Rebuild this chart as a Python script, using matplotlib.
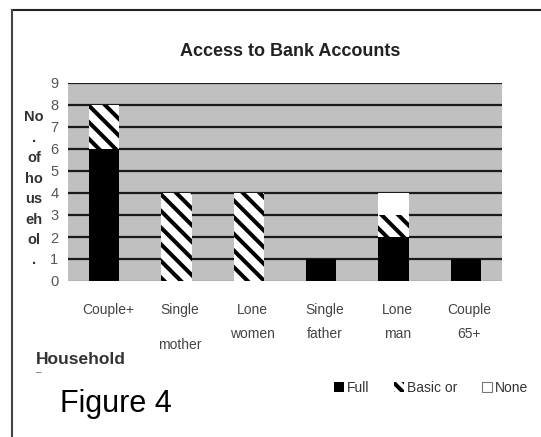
import matplotlib
matplotlib.use("Agg")
import matplotlib.pyplot as plt
import matplotlib.transforms as mtransforms
from matplotlib.lines import Line2D
from matplotlib.patches import Patch
import numpy as np

# Data
categories = ["Couple+", "Single mother", "Lone women", "Single father", "Lone man", "Couple 65+"]
full = [6, 0, 0, 1, 2, 1]
basic = [2, 4, 4, 0, 1, 0]
none_ = [0, 0, 0, 0, 1, 0]
series_names = ["Full", "Basic or", "None"]
yticks = list(range(0, 10))
ylabel_lines = ["No", ".", "of", "ho", "us", "eh", "ol", "."]

plt.rcParams["font.family"] = ["Liberation Sans", "DejaVu Sans"]
plt.rcParams["hatch.linewidth"] = 2.9

W, H = 541, 437
fig = plt.figure(figsize=(W / 100, H / 100), dpi=100)
fig.patch.set_facecolor("white")

def fx(px):
    return px / W

def fy(py):
    return 1 - py / H

ax = fig.add_axes([fx(68), fy(281), fx(502) - fx(68), fy(83) - fy(281)])
ax.set_facecolor("#c0c0c0")

x = np.arange(len(categories))
bw = 0.42
full_a = np.array(full, dtype=float)
basic_a = np.array(basic, dtype=float)
none_a = np.array(none_, dtype=float)

ax.bar(x, full_a, bw, color="black", edgecolor="black", linewidth=0, zorder=3)
ax.bar(x, basic_a, bw, bottom=full_a, color="white", edgecolor="black",
       hatch="\\\\", linewidth=0, zorder=3)
ax.bar(x, none_a, bw, bottom=full_a + basic_a, color="white", edgecolor="white",
       linewidth=0, zorder=3)

ax.set_xlim(-0.5, len(categories) - 0.5)
ax.set_ylim(0, 9)
ax.set_yticks(yticks)
ax.set_yticklabels([str(t) for t in yticks], color="#555555", fontsize=10.5)
ax.tick_params(axis="y", length=0, pad=7)
ax.set_xticks([])
for s in ax.spines.values():
    s.set_visible(False)

for t in yticks[1:]:
    ax.axhline(t, color="#1a1a1a", lw=1.6, zorder=2)
ax.axhline(0, color="#8a8a8a", lw=1.0, zorder=2)

# Category labels, split over two rows
trans = mtransforms.blended_transform_factory(ax.transData, fig.transFigure)
second_row_y = {"Single mother": 345}
for i, name in enumerate(categories):
    first, _, second = name.partition(" ")
    ax.text(i + 0.05, fy(310), first, transform=trans, ha="center", va="center",
            fontsize=10, color="#444444")
    if second:
        ax.text(i + 0.05, fy(second_row_y.get(name, 334)), second, transform=trans,
                ha="center", va="center", fontsize=10, color="#444444")

# Vertical axis title, broken into short pieces
for k, part in enumerate(ylabel_lines):
    fig.text(fx(34), fy(117 + k * 20.5), part, ha="center", va="center",
             fontsize=10.5, fontweight="bold", color="#333333")

fig.text(fx(36), fy(359), "Household", ha="left", va="center", fontsize=12.5,
         fontweight="bold", color="#333333")
fig.text(fx(36), fy(372), "\u2013", ha="left", va="center", fontsize=7, color="#666666")

fig.text(fx(290), fy(51), "Access to Bank Accounts", ha="center", va="center",
         fontsize=13, fontweight="bold", color="#222222")

handles = [
    Patch(facecolor="black", edgecolor="black", linewidth=0),
    Patch(facecolor="white", edgecolor="black", hatch="\\\\\\", linewidth=0),
    Patch(facecolor="white", edgecolor="#777777", linewidth=0.8),
]
leg = fig.legend(handles, series_names, loc="center", bbox_to_anchor=(fx(431), fy(388)),
                 ncol=3, frameon=False, fontsize=10, handlelength=0.7, handleheight=0.7,
                 handletextpad=0.2, columnspacing=1.8, borderaxespad=0)
for t in leg.get_texts():
    t.set_color("#333333")

fig.text(fx(60), fy(404), "Figure 4", ha="left", va="center", fontsize=22, color="black")

# Frame lines along the top and left edges
fig.add_artist(Line2D([fx(12), 1.0], [fy(10), fy(10)], transform=fig.transFigure,
                      color="#222222", lw=1.5))
fig.add_artist(Line2D([fx(12), fx(12)], [fy(10), 0.0], transform=fig.transFigure,
                      color="#444444", lw=1.5))

fig.savefig("out.png", dpi=100, facecolor="white")
